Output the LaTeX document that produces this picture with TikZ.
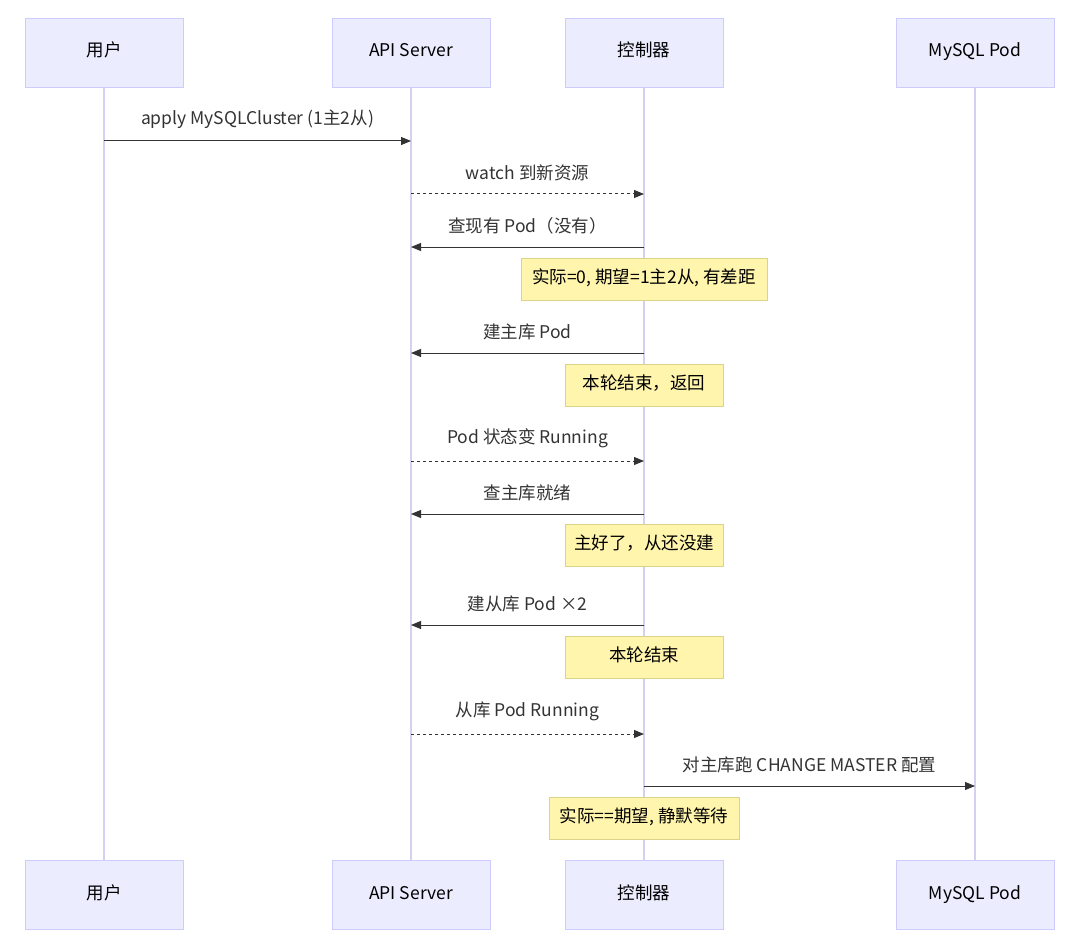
\documentclass[tikz,border=0pt]{standalone}
\usepackage{fontspec}
\setmainfont{Noto Sans CJK SC}
\usetikzlibrary{arrows.meta}
\definecolor{actfill}{HTML}{ECECFF}
\definecolor{actline}{HTML}{CCCCFF}
\definecolor{lifeline}{HTML}{D4D0F2}
\definecolor{notefill}{HTML}{FFF5AD}
\definecolor{noteline}{HTML}{D9D488}
\definecolor{txt}{HTML}{333333}
\tikzset{
  actor/.style={draw=actline, fill=actfill, minimum width=158pt, minimum height=69pt, text=black, text height=12pt, text depth=3pt, font=\fontsize{17.5}{20}\selectfont},
  note/.style={draw=noteline, fill=notefill, minimum height=42pt, text=black, text height=12pt, text depth=3pt, font=\fontsize{17.5}{20}\selectfont},
  msg/.style={draw=txt, line width=1pt, -{Triangle[length=10pt,width=8pt]}},
  reply/.style={msg, dash pattern=on 3pt off 3pt},
  lbl/.style={text=txt, font=\fontsize{17.5}{20}\selectfont, above=9pt}
}
\begin{document}
\begin{tikzpicture}[x=1pt,y=-1pt]
\useasboundingbox (0,0) rectangle (1080,947);
% lifelines
\foreach \n/\x in {u/104, a/411, c/644, m/975} {
  \coordinate (\n top) at (\x,87);
  \coordinate (\n bot) at (\x,860);
  \draw[lifeline, line width=1.5pt] (\n top) -- (\n bot);
}
% actors
\foreach \n/\x/\t in {u/104/用户, a/411/API Server, c/644/控制器, m/975/MySQL Pod} {
  \node[actor] (\n head) at (\x,52.5) {\t};
  \node[actor] (\n foot) at (\x,894.5) {\t};
}
% messages
\foreach \i/\f/\t/\y/\s/\l in {
  1/u/a/141/msg/apply MySQLCluster (1主2从),
  2/a/c/194/reply/watch 到新资源,
  3/c/a/247/msg/查现有 Pod（没有）,
  5/c/a/353/msg/建主库 Pod,
  7/a/c/461/reply/Pod 状态变 Running,
  8/c/a/514/msg/查主库就绪,
  10/c/a/625/msg/建从库 Pod ×2,
  12/a/c/734/reply/从库 Pod Running,
  13/c/m/786/msg/对主库跑 CHANGE MASTER 配置} {
  \coordinate (s\i) at (\f top |- 0,\y);
  \coordinate (e\i) at (\t top |- 0,\y);
  \draw[\s] (s\i) -- (e\i) node[lbl, midway] {\l};
}
% notes
\node[note, minimum width=246pt] (n4) at (644,279) {实际=0, 期望=1主2从, 有差距};
\node[note, minimum width=158pt] (n6) at (644,385) {本轮结束，返回};
\node[note, minimum width=158pt] (n9) at (644,545) {主好了，从还没建};
\node[note, minimum width=158pt] (n11) at (644,657) {本轮结束};
\node[note, minimum width=190pt] (n14) at (644,818) {实际==期望, 静默等待};
\end{tikzpicture}
\end{document}
